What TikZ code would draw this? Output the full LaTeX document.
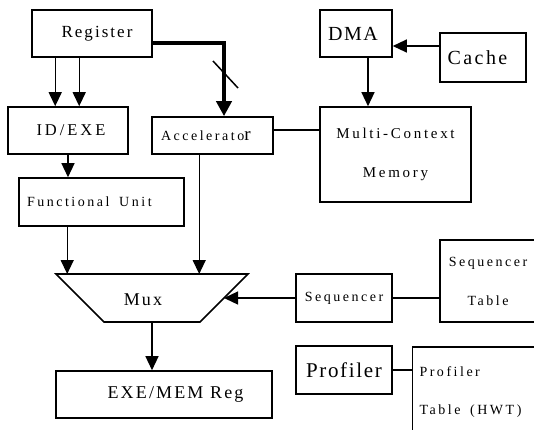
\documentclass[tikz,border=0pt]{standalone}
\usepackage{fontspec}
\setmainfont{Liberation Serif}
\newfontfamily\lsw[LetterSpace=18]{Liberation Serif}
\newfontfamily\lsm[LetterSpace=12]{Liberation Serif}
\newfontfamily\lsn[LetterSpace=8]{Liberation Serif}
\usetikzlibrary{arrows.meta}
\begin{document}
\begin{tikzpicture}[x=1pt,y=-1pt,
  box/.style={draw, line width=1.6pt, inner sep=0pt, align=center},
  arr/.style={-{Triangle[width=13pt,length=14pt]}, line width=1.3pt},
  wire/.style={line width=1.3pt},
  bus/.style={-{Triangle[width=15pt,length=15pt]}, line width=4pt}]
\useasboundingbox (0,0) rectangle (534,429);
\clip (0,0) rectangle (534,429);
% boxes
\node[box, minimum width=120pt, minimum height=47pt, font={\lsm\fontsize{17}{20}\selectfont}] (reg) at (92,33.5) {\hspace*{10pt}Register};
\node[box, minimum width=120pt, minimum height=47pt, font={\lsw\fontsize{16.5}{20}\selectfont}] (idexe) at (68,130.5) {\hspace*{6pt}ID/EXE};
\node[box, minimum height=48pt, text width=149pt, inner xsep=8pt, align=left, font={\lsw\fontsize{14}{17}\selectfont}] (fu) at (101.5,202) {Functional\hspace{5pt} Unit};
\node[box, minimum height=37pt, text width=103pt, inner xsep=9pt, align=left, font={\lsw\fontsize{14}{17}\selectfont}] (acc) at (212.5,135.5) {\raisebox{-5pt}{Accelerato{\fontsize{19}{19}\selectfont r}}};
\node[box, minimum width=72pt, minimum height=47pt, font={\lsn\fontsize{20}{24}\selectfont}] (dma) at (356,33.5) {DMA\hspace*{6pt}};
\node[box, minimum width=86pt, minimum height=49pt, font={\lsm\fontsize{20}{24}\selectfont}] (cache) at (483,57.5) {Cache\hspace*{11pt}};
\node[box, minimum width=151pt, minimum height=95pt, font={\lsw\fontsize{15}{39}\selectfont}] (mcm) at (395.5,154.5) {Multi-Context\\Memory};
\node[box, minimum width=216pt, minimum height=47pt, font={\lsm\fontsize{18}{22}\selectfont}] (exe) at (164,394.5) {\hspace*{23pt}EXE/MEM Reg};
\node[box, minimum width=96pt, minimum height=48pt, font={\lsw\fontsize{14}{17}\selectfont}] (seq) at (344,298) {Sequencer};
\node[box, minimum width=96pt, minimum height=82pt, font={\lsw\fontsize{14}{39}\selectfont}] (seqt) at (488,281) {Sequencer\\Table};
\node[box, minimum width=96pt, minimum height=48pt, font={\lsn\fontsize{21}{24}\selectfont}] (prof) at (344,370) {Profiler};
\node[box, minimum height=90pt, text width=137pt, inner xsep=7pt, align=left, font={\lsw\fontsize{14}{38}\selectfont}] (proft) at (488,392) {Profiler\\Table\hspace{5pt} (HWT)};
% mux
\coordinate (muxTL) at (56,274);
\coordinate (muxTR) at (248,274);
\coordinate (muxBR) at (200,322);
\coordinate (muxBL) at (104,322);
\coordinate (muxR) at (224,298);
\coordinate (muxbot) at (152,322);
\draw[line width=1.6pt, line join=miter] (muxTL) -- (muxTR) -- (muxBR) -- (muxBL) -- cycle;
\node[font={\lsm\fontsize{18}{22}\selectfont}] (mux) at (143,300) {Mux};
% connectors
\draw[arr] ([xshift=24pt]reg.south west) -- ([xshift=24pt]reg.south west |- idexe.north);
\draw[arr] ([xshift=48pt]reg.south west) -- ([xshift=48pt]reg.south west |- idexe.north);
\draw[arr] (idexe.south) -- (idexe.south |- fu.north);
\draw[arr] ([xshift=49pt]fu.south west) -- ([xshift=49pt]fu.south west |- muxTL);
\draw[arr] ([xshift=48pt]acc.south west) -- ([xshift=48pt]acc.south west |- muxTL);
\coordinate (bend) at (224,43);
\draw[bus, line join=miter] (reg.east |- bend) -- (bend) -- (bend |- acc.north);
\coordinate (slA) at (213,61);
\coordinate (slB) at (238,88);
\draw[line width=1.5pt] (slA) -- (slB);
\draw[wire] ([yshift=5.5pt]acc.east) -- ([yshift=5.5pt]acc.east -| mcm.west);
\draw[arr] ([yshift=11.5pt]cache.west) -- ([yshift=11.5pt]cache.west -| dma.east);
\draw[arr] ([xshift=12pt]dma.south) -- ([xshift=12pt]dma.south |- mcm.north);
\draw[arr] (seq.west) -- (muxR);
\draw[wire] (seq.east) -- (seq.east -| seqt.west);
\draw[arr] (muxbot) -- (muxbot |- exe.north);
\draw[wire] (prof.east) -- (prof.east -| proft.west);
\end{tikzpicture}
\end{document}
